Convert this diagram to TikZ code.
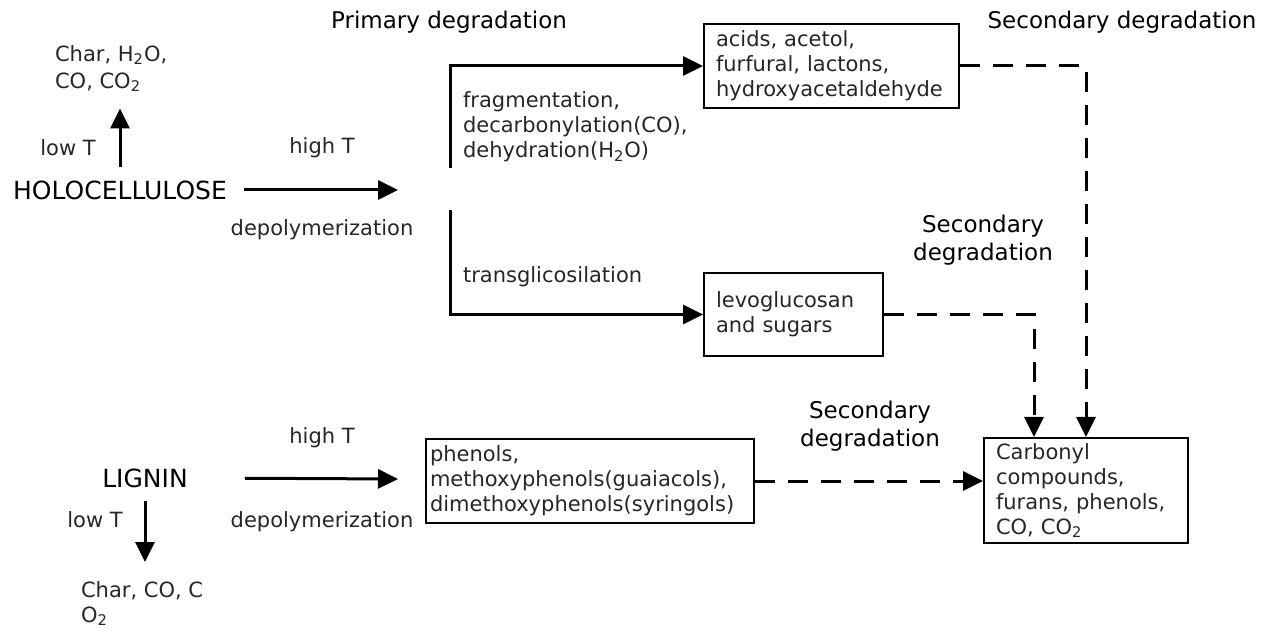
\documentclass[tikz,border=0pt]{standalone}
\usepackage{fontspec}
\setmainfont{DejaVu Sans}
\usetikzlibrary{arrows.meta,positioning}

\begin{document}
\begin{tikzpicture}[
  x=0.5pt, y=-0.5pt,
  every node/.style={font=\fontsize{10.5}{12.5}\selectfont, text=black!85},
  title/.style={font=\fontsize{11.5}{14}\selectfont, text=black},
  source/.style={font=\fontsize{12.5}{15}\selectfont, text=black},
  box/.style={draw, line width=1pt, align=left, anchor=north west,
    inner xsep=6pt, inner ysep=2pt},
  arrow/.style={-{Triangle[length=10pt,width=9.5pt]}, line width=1.5pt},
  dasharrow/.style={arrow, dash pattern=on 10pt off 6.5pt},
  branch/.style={line width=1.5pt}
]
\useasboundingbox (0,0) rectangle (1263,630);

% headings
\node[title] (primary) at (449,22) {Primary degradation};
\node[title] (second1) at (1122,22) {Secondary degradation};
\node[title, align=center] (second2) at (983,240) {Secondary\\degradation};
\node[title, align=center] (second3) at (870,426) {Secondary\\degradation};

% holocellulose branch
\node[source] (holo) at (120,190) {HOLOCELLULOSE};
\node[anchor=north west, align=left, font=\fontsize{10.5}{13.5}\selectfont]
  (charh) at (48,38) {Char, H\textsubscript{2}O,\\CO, CO\textsubscript{2}};
\node (lowh) at (68,148) {low T};
\node (highh) at (322,148) {high T};
\node (depolh) at (322,230) {depolymerization};
\coordinate (holoend) at (398,190);
\coordinate (upper) at (450,168);
\coordinate (lower) at (450,210);

\node[box, text width=115.5pt, minimum height=42pt] (acids) at (703,23)
  {acids, acetol,\\furfural, lactons,\\hydroxyacetaldehyde};
\node[box, text width=77.5pt, minimum height=41.5pt] (levo) at (703,272)
  {levoglucosan\\and sugars};
\node[anchor=west, align=left] (frag) at (456,127)
  {fragmentation,\\decarbonylation(CO),\\dehydration(H\textsubscript{2}O)};
\node[anchor=west] (trans) at (456,277) {transglicosilation};

% lignin branch
\node[source] (lignin) at (145,478) {LIGNIN};
\node[anchor=north west, align=left] (charl) at (74,574)
  {Char, CO, C\\O\textsubscript{2}};
\node (lowl) at (95,520) {low T};
\node (highl) at (322,438) {high T};
\node (depoll) at (322,522) {depolymerization};
\coordinate (ligend) at (398,479);
\node[box, inner xsep=2pt, text width=160pt, minimum height=42pt] (phenols) at (425,438)
  {phenols,\\methoxyphenols(guaiacols),\\dimethoxyphenols(syringols)};

\node[box, text width=90pt, minimum height=52.5pt] (carbonyl) at (983,437)
  {Carbonyl\\compounds,\\furans, phenols,\\CO, CO\textsubscript{2}};

% primary steps
\draw[arrow, shorten <=5pt] (holo.east) -- (holoend);
\draw[arrow, shorten <=3pt, shorten >=5pt] (holo.north) -- (holo.north |- charh.south);
\draw[arrow] (upper) |- (acids);
\draw[arrow] (lower) |- (levo);
\draw[arrow, shorten <=25pt] (lignin.east) -- (ligend);
\draw[arrow, shorten <=3pt, shorten >=6pt] (lignin.south) -- (lignin.south |- charl.north);

% secondary steps
\draw[dasharrow] (acids) -| (carbonyl);
\draw[dasharrow] (levo) -| ([xshift=-26pt]carbonyl.north);
\draw[dasharrow] (phenols) -- (phenols -| carbonyl.west);
\end{tikzpicture}
\end{document}
